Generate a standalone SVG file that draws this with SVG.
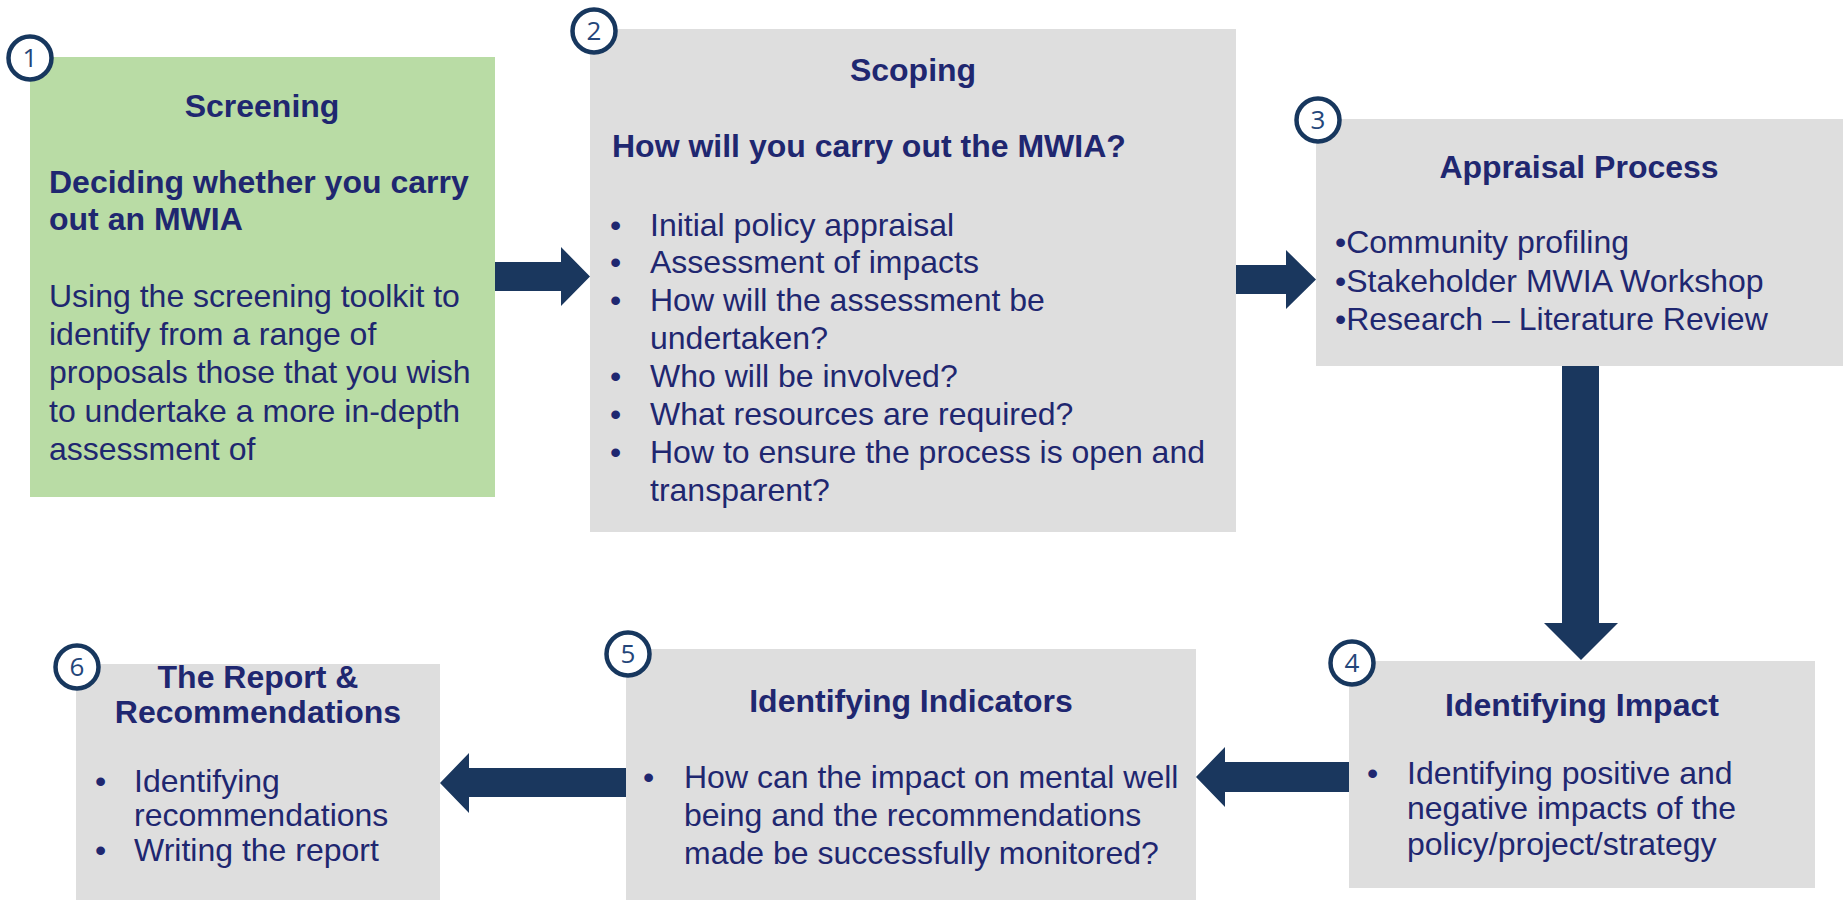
<svg xmlns="http://www.w3.org/2000/svg" width="1845" height="900" viewBox="0 0 1845 900">
<style>
.t{font-family:"Liberation Sans",Arial,sans-serif;font-size:32px;fill:#1f2770}
.b{font-weight:bold}
.c{text-anchor:middle}
.gray{fill:#dedede}
.green{fill:#b9dca5}
.num{fill:#ffffff;stroke:#17375e;stroke-width:4.5}
.nt{font-family:"Open Sans","Liberation Sans",sans-serif;font-size:26px;fill:#24467a;text-anchor:middle}
.arr{fill:#1a375e}
</style>
<rect width="1845" height="900" fill="#ffffff"/>
<g id="connectors">
<polygon class="arr" points="495,262 561,262 561,247 590,276.5 561,306 561,291 495,291"/>
<polygon class="arr" points="1236,265 1286,265 1286,250 1316,279.5 1286,309 1286,294 1236,294"/>
<polygon class="arr" points="1562,366 1599,366 1599,623 1618,623 1581,660 1544,623 1562,623"/>
<polygon class="arr" points="1349,762 1225,762 1225,747 1196,777 1225,807 1225,792 1349,792"/>
<polygon class="arr" points="626,768 469,768 469,753 440,783 469,813 469,797 626,797"/>
</g>
<g id="node1">
<rect class="green" x="30" y="57" width="465" height="440"/>
<text class="t b c" x="262" y="117">Screening</text>
<text class="t b" x="49" y="193">Deciding whether you carry</text>
<text class="t b" x="49" y="230">out an MWIA</text>
<text class="t" x="49" y="307">Using the screening toolkit to</text>
<text class="t" x="49" y="345">identify from a range of</text>
<text class="t" x="49" y="383">proposals those that you wish</text>
<text class="t" x="49" y="422">to undertake a more in-depth</text>
<text class="t" x="49" y="460">assessment of</text>
<circle class="num" cx="30" cy="58" r="21.5"/>
<text class="nt" x="30" y="67">1</text>
</g>
<g id="node2">
<rect class="gray" x="590" y="29" width="646" height="503"/>
<text class="t b c" x="913" y="81">Scoping</text>
<text class="t b" x="612" y="157">How will you carry out the MWIA?</text>
<text class="t" x="610" y="236">•</text><text class="t" x="650" y="236">Initial policy appraisal</text>
<text class="t" x="610" y="273">•</text><text class="t" x="650" y="273">Assessment of impacts</text>
<text class="t" x="610" y="311">•</text><text class="t" x="650" y="311">How will the assessment be</text>
<text class="t" x="650" y="349">undertaken?</text>
<text class="t" x="610" y="387">•</text><text class="t" x="650" y="387">Who will be involved?</text>
<text class="t" x="610" y="425">•</text><text class="t" x="650" y="425">What resources are required?</text>
<text class="t" x="610" y="463">•</text><text class="t" x="650" y="463">How to ensure the process is open and</text>
<text class="t" x="650" y="501">transparent?</text>
<circle class="num" cx="594" cy="31" r="21.5"/>
<text class="nt" x="594" y="40">2</text>
</g>
<g id="node3">
<rect class="gray" x="1316" y="119" width="527" height="247"/>
<text class="t b c" x="1579" y="178">Appraisal Process</text>
<text class="t" x="1335" y="253">•Community profiling</text>
<text class="t" x="1335" y="292">•Stakeholder MWIA Workshop</text>
<text class="t" x="1335" y="330">•Research – Literature Review</text>
<circle class="num" cx="1318" cy="120" r="21.5"/>
<text class="nt" x="1318" y="129">3</text>
</g>
<g id="node4">
<rect class="gray" x="1349" y="661" width="466" height="227"/>
<text class="t b c" x="1582" y="716">Identifying Impact</text>
<text class="t" x="1367" y="784">•</text><text class="t" x="1407" y="784">Identifying positive and</text>
<text class="t" x="1407" y="819">negative impacts of the</text>
<text class="t" x="1407" y="855">policy/project/strategy</text>
<circle class="num" cx="1352" cy="663" r="21.5"/>
<text class="nt" x="1352" y="672">4</text>
</g>
<g id="node5">
<rect class="gray" x="626" y="649" width="570" height="251"/>
<text class="t b c" x="911" y="712">Identifying Indicators</text>
<text class="t" x="643" y="788">•</text><text class="t" x="684" y="788">How can the impact on mental well</text>
<text class="t" x="684" y="826">being and the recommendations</text>
<text class="t" x="684" y="864">made be successfully monitored?</text>
<circle class="num" cx="628" cy="654" r="21.5"/>
<text class="nt" x="628" y="663">5</text>
</g>
<g id="node6">
<rect class="gray" x="76" y="664" width="364" height="236"/>
<text class="t b c" x="258" y="688">The Report &amp;</text>
<text class="t b c" x="258" y="723">Recommendations</text>
<text class="t" x="95" y="792">•</text><text class="t" x="134" y="792">Identifying</text>
<text class="t" x="134" y="826">recommendations</text>
<text class="t" x="95" y="861">•</text><text class="t" x="134" y="861">Writing the report</text>
<circle class="num" cx="77" cy="667" r="21.5"/>
<text class="nt" x="77" y="676">6</text>
</g>
</svg>
